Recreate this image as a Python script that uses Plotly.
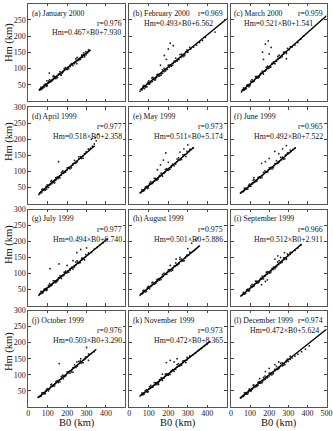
import plotly.graph_objects as go

W, H = 333, 431
FONT = "Liberation Serif, Times New Roman, serif"

titles = ["(a) January 2000", "(b) February 2000", "(c) March 2000",
          "(d) April 1999", "(e) May 1999", "(f) June 1999",
          "(g) July 1999", "(h) August 1999", "(i) September 1999",
          "(j) October 1999", "(k) November 1999", "(l) December 1999"]
r_vals = ["0.976", "0.969", "0.959", "0.977", "0.973", "0.965",
          "0.977", "0.975", "0.966", "0.976", "0.973", "0.974"]
slopes = [0.467, 0.493, 0.521, 0.518, 0.511, 0.492,
          0.494, 0.501, 0.512, 0.503, 0.472, 0.472]
intercepts = [7.930, 6.562, 1.541, 2.358, 5.174, 7.522,
              6.740, 5.886, 2.911, 3.290, 8.365, 5.624]
line_start = [55, 55, 55, 55, 57, 50, 55, 57, 52, 52, 59, 47]
line_end = [318, 500, 500, 342, 332, 339, 410, 362, 370, 350, 416, 500]

# scattered / outlying points per panel
b0_a = [58,62,66,70,75,78,82,85,90,95,100,105,108,112,118,125,130,138,145,150,160,168,175,185,195,205,215,225,235,245,255,265,272,280,290,298,305,312,318,96,130,250,285]
hm_a = [34,38,35,40,42,45,43,47,50,52,55,57,86,58,62,64,68,70,76,72,82,80,86,94,98,104,106,112,116,120,124,130,133,135,140,142,148,152,156,62,78,115,148]
b0_b = [55,60,65,72,78,85,90,98,105,110,118,125,132,140,148,155,162,170,178,185,195,205,215,225,235,245,255,265,275,285,300,315,330,345,360,180,200,210,225,160,190,440,120,100,375,390]
hm_b = [30,36,34,40,38,46,44,52,55,58,60,66,64,72,76,78,84,85,90,92,98,104,108,116,120,124,128,134,140,142,150,160,166,172,180,140,160,178,170,110,128,212,72,62,186,196]
b0_c = [55,60,68,75,80,88,95,100,108,115,122,130,138,145,152,160,168,175,185,195,205,215,225,235,245,255,265,275,290,305,320,335,350,165,180,195,210,200,170,290,365,380]
hm_c = [28,34,33,40,38,46,48,50,58,60,62,70,72,75,80,85,86,92,96,100,106,114,116,122,128,132,140,144,150,158,166,172,180,150,175,185,165,145,128,130,190,200]
b0_d = [55,60,65,70,78,85,92,100,108,115,122,130,138,145,152,160,170,180,190,200,210,220,230,240,250,260,270,280,290,300,310,320,330,340,350,156,175,325,345,360,135,95]
hm_d = [28,32,35,36,42,44,50,52,58,60,62,68,72,74,80,84,88,94,98,104,110,114,120,126,130,138,142,148,154,160,168,172,178,185,195,130,100,200,205,215,64,45]
b0_e = [55,60,65,70,75,80,88,95,100,108,115,122,130,138,145,152,160,168,175,185,195,205,215,225,235,245,255,265,275,285,295,305,315,325,144,160,175,187,200,260,280,300]
hm_e = [33,34,38,40,42,44,50,52,56,60,62,66,70,72,78,82,86,88,94,98,104,110,112,120,124,130,136,140,146,152,155,162,168,172,105,120,135,157,128,160,170,182]
b0_f = [50,55,62,68,75,80,88,95,100,108,115,122,130,138,145,152,160,168,175,185,195,205,215,225,235,245,255,265,275,285,295,305,315,325,335,160,200,229,250,270,290,180,120]
hm_f = [32,36,38,40,44,46,50,54,56,62,64,66,72,74,80,82,86,90,94,98,104,108,112,118,124,128,132,136,142,150,154,158,162,168,172,125,140,162,155,170,180,130,80]
b0_g = [55,60,66,72,78,85,92,100,108,115,122,130,138,145,152,160,168,175,185,195,205,215,225,235,245,255,265,275,285,295,310,325,340,355,370,385,112,158,250,270,300,200,230]
hm_g = [32,36,38,42,44,48,50,56,58,62,66,70,72,78,80,86,88,94,96,102,108,110,118,122,126,132,136,142,146,152,160,166,176,182,190,196,115,130,165,175,180,125,140]
b0_h = [55,60,66,72,78,85,92,100,108,115,122,130,138,145,152,160,168,175,185,195,205,215,225,235,245,255,265,275,285,295,305,315,325,335,345,355,300,320,340,350,210,240,260]
hm_h = [32,36,38,40,44,46,52,54,60,62,66,70,72,76,82,86,88,92,98,104,106,112,118,122,128,132,138,140,148,154,158,164,168,172,178,184,178,195,205,210,125,145,150]
b0_i = [52,58,64,70,76,82,90,98,105,112,120,128,135,142,150,158,165,172,180,190,200,210,220,230,240,250,260,270,280,290,300,310,320,335,350,365,230,245,260,160,180,190,280]
hm_i = [30,32,36,38,40,45,48,52,56,58,62,68,70,72,78,82,84,90,94,98,104,108,112,118,124,128,134,140,144,148,156,160,166,172,180,188,145,155,150,65,75,80,165]
b0_j = [50,55,60,66,72,78,85,92,100,108,115,122,130,138,145,152,160,168,175,185,195,205,215,225,235,245,255,265,275,285,295,305,315,325,340,159,300,180,230,250,270,310]
hm_j = [30,32,34,36,40,42,46,50,54,56,62,64,68,72,76,80,84,86,92,96,100,106,112,116,122,126,132,136,140,146,150,156,162,166,172,135,185,88,108,140,150,145]
b0_k = [55,60,66,72,78,85,92,100,108,115,122,130,138,145,152,160,168,175,185,195,205,215,225,235,245,255,265,275,285,295,310,325,340,355,370,385,400,190,210,230,245,170,150]
hm_k = [34,38,40,42,44,48,52,56,58,62,64,68,72,76,78,84,86,90,96,100,104,110,114,118,124,128,132,138,142,146,156,162,168,176,182,190,196,138,145,140,150,102,70]
b0_l = [50,55,62,68,75,82,90,98,105,112,120,128,135,142,150,158,165,172,180,190,200,210,220,230,240,250,260,270,280,290,300,310,320,335,350,370,390,410,180,200,230,250,150]
hm_l = [28,30,34,36,40,42,46,50,52,56,60,64,66,68,74,76,80,84,86,92,96,100,106,112,116,120,126,128,134,140,142,148,152,158,164,172,180,190,110,120,132,140,88]

# dense band points: shared B0 positions, Hm read per panel
b0_band1 = [65,75,88,97,110,120,135,148,163,178,192,208,222,238,252,268,282,296]
b0_band2 = [70,82,93,104,116,128,142,155,170,185,200,215,230,245,260,275,290,310]
hm_a_band1 = [43,39,52,47,66,61,75,72,90,89,103,99,115,115,134,128,142,152]
hm_a_band2 = [38,50,45,62,60,75,69,83,80,100,97,110,109,130,126,141,136,157]
hm_b_band1 = [36,48,44,59,59,73,68,83,80,100,97,111,110,132,128,144,139,157]
hm_b_band2 = [46,43,55,52,71,67,81,78,96,96,110,107,123,123,143,137,152,165]
hm_c_band1 = [40,37,50,46,66,61,76,74,92,92,107,104,120,122,141,136,150,162]
hm_c_band2 = [35,48,44,61,60,75,71,85,83,104,102,116,115,137,134,150,146,167]
hm_d_band1 = [33,45,42,58,57,72,67,82,80,101,98,112,111,134,130,146,141,160]
hm_d_band2 = [44,41,53,50,69,66,80,78,96,96,111,108,124,125,145,140,155,169]
hm_e_band1 = [43,40,53,49,68,64,78,76,94,94,108,106,122,123,142,137,151,162]
hm_e_band2 = [38,51,47,63,62,78,73,87,85,106,103,117,117,138,135,151,146,168]
hm_f_band1 = [37,48,45,60,60,74,69,83,81,101,98,112,111,133,129,144,139,157]
hm_f_band2 = [47,44,56,53,72,68,81,79,97,97,111,107,124,124,143,138,152,166]
hm_g_band1 = [44,40,53,49,68,63,77,75,93,93,107,104,119,120,139,134,148,159]
hm_g_band2 = [38,51,47,63,62,77,72,86,84,104,102,115,114,136,132,148,143,164]
hm_h_band1 = [36,48,44,60,59,73,69,83,81,101,98,112,111,133,129,145,140,158]
hm_h_band2 = [46,43,56,52,71,67,81,79,97,97,111,108,124,125,144,139,153,167]
hm_i_band1 = [41,37,51,47,66,61,76,74,92,92,106,103,120,121,140,135,149,161]
hm_i_band2 = [36,49,45,61,60,76,71,85,83,104,101,115,115,136,133,149,144,166]
hm_j_band1 = [33,45,42,57,57,71,66,81,78,99,96,110,109,131,127,143,138,156]
hm_j_band2 = [44,41,53,50,69,65,79,76,95,94,109,105,122,123,142,137,151,165]
hm_k_band1 = [44,40,53,48,67,62,76,73,91,90,104,101,116,117,135,130,144,154]
hm_k_band2 = [38,51,46,63,61,76,70,85,82,102,99,112,111,132,128,143,138,159]
hm_l_band1 = [33,45,41,56,55,69,64,79,76,96,92,106,104,126,122,137,132,149]
hm_l_band2 = [44,40,52,49,67,63,77,74,92,91,105,101,117,117,136,130,145,158]

b0_all = [b0_a, b0_b, b0_c, b0_d, b0_e, b0_f, b0_g, b0_h, b0_i, b0_j, b0_k, b0_l]
hm_all = [hm_a, hm_b, hm_c, hm_d, hm_e, hm_f, hm_g, hm_h, hm_i, hm_j, hm_k, hm_l]
hm_band1 = [hm_a_band1, hm_b_band1, hm_c_band1, hm_d_band1, hm_e_band1, hm_f_band1,
            hm_g_band1, hm_h_band1, hm_i_band1, hm_j_band1, hm_k_band1, hm_l_band1]
hm_band2 = [hm_a_band2, hm_b_band2, hm_c_band2, hm_d_band2, hm_e_band2, hm_f_band2,
            hm_g_band2, hm_h_band2, hm_i_band2, hm_j_band2, hm_k_band2, hm_l_band2]

x_ticks = [0, 100, 200, 300, 400, 500]
y_ticks = [50, 100, 150, 200, 250, 300]

# layout (pixels)
cols_px = [(28.3, 125.4), (129.3, 226.8), (231.0, 326.5)]
rows_px = [(3.5, 101.0), (107.0, 203.5), (209.5, 305.5), (310.5, 407.0)]
r_line = [1, 0, 0, 1, 1, 1, 1, 1, 1, 1, 1, 0]
eq_right_off = [2, 12, 12, 1.5, 1.5, 1.5, 1.5, 1.5, 1.5, 1.5, 1.5, 6]
line_offs = [9.5, 19.5, 29.5]


def px_x(x):
    return x / W


def px_y(y):
    return 1 - y / H


fig = go.Figure()
annotations = []
layout = dict(
    width=W, height=H, margin=dict(l=0, r=0, t=0, b=0, autoexpand=False),
    paper_bgcolor="white", plot_bgcolor="white", showlegend=False,
    font=dict(family=FONT, size=8, color="black"),
)

for i in range(12):
    r, c = divmod(i, 3)
    n = i + 1
    xa = "x" if n == 1 else f"x{n}"
    ya = "y" if n == 1 else f"y{n}"
    x0, x1 = cols_px[c]
    top, bot = rows_px[r]

    px = b0_all[i] + b0_band1 + b0_band2
    py = hm_all[i] + hm_band1[i] + hm_band2[i]
    fig.add_trace(go.Scatter(
        x=px, y=py, mode="markers", xaxis=xa, yaxis=ya,
        marker=dict(size=1.8, color="#222222"), hoverinfo="skip"))
    lx = [line_start[i], line_end[i]]
    ly = [slopes[i] * v + intercepts[i] for v in lx]
    fig.add_trace(go.Scatter(
        x=lx, y=ly, mode="lines", xaxis=xa, yaxis=ya,
        line=dict(color="black", width=1.4), hoverinfo="skip"))

    if r == 3:
        xt = [str(v) for v in x_ticks]
        if c < 2:
            xt[-1] = ""
    else:
        xt = [""] * len(x_ticks)
    yt = [str(v) for v in y_ticks] if c == 0 else [""] * len(y_ticks)

    layout["xaxis" if n == 1 else f"xaxis{n}"] = dict(
        domain=[px_x(x0), px_x(x1)], range=[0, 500], anchor=ya,
        tickvals=x_ticks, ticktext=xt, ticks="inside", ticklen=2.5,
        tickcolor="#444", showline=True, linecolor="#555", linewidth=1,
        mirror="ticks", showgrid=False, zeroline=False,
        ticklabelstandoff=-2,
        tickfont=dict(family=FONT, size=8, color="#222"))
    layout["yaxis" if n == 1 else f"yaxis{n}"] = dict(
        domain=[px_y(bot), px_y(top)], range=[0, 300], anchor=xa,
        tickvals=y_ticks, ticktext=yt, ticks="inside", ticklen=2.5,
        tickcolor="#444", showline=True, linecolor="#555", linewidth=1,
        mirror="ticks", showgrid=False, zeroline=False,
        tickfont=dict(family=FONT, size=8, color="#222"))

    annotations.append(dict(
        text=titles[i], xref="paper", yref="paper",
        x=px_x(x0 + 1.2), y=px_y(top + line_offs[0]),
        xanchor="left", yanchor="middle", showarrow=False,
        font=dict(family=FONT, size=7.8, color="#111")))
    annotations.append(dict(
        text="r=" + r_vals[i], xref="paper", yref="paper",
        x=px_x(x1 - 1.5), y=px_y(top + line_offs[r_line[i]]),
        xanchor="right", yanchor="middle", showarrow=False,
        font=dict(family=FONT, size=7.8, color="#111")))
    eq = f"Hm={slopes[i]:.3f}×B0+{intercepts[i]:.3f}"
    annotations.append(dict(
        text=eq, xref="paper", yref="paper",
        x=px_x(x1 - eq_right_off[i]), y=px_y(top + line_offs[r_line[i] + 1]),
        xanchor="right", yanchor="middle", showarrow=False,
        font=dict(family=FONT, size=7.8, color="#111")))

for r, ycen in enumerate([43, 142, 245, 352]):
    annotations.append(dict(
        text="Hm (km)", xref="paper", yref="paper", x=px_x(9), y=px_y(ycen),
        xanchor="center", yanchor="middle", textangle=-90, showarrow=False,
        font=dict(family=FONT, size=10.5, color="#111")))
for c in range(3):
    x0, x1 = cols_px[c]
    annotations.append(dict(
        text="B0 (km)", xref="paper", yref="paper", x=px_x((x0 + x1) / 2),
        y=px_y(423), xanchor="center", yanchor="middle", showarrow=False,
        font=dict(family=FONT, size=10.5, color="#111")))

layout["annotations"] = annotations
fig.update_layout(**layout)
fig.write_html("out.html")
